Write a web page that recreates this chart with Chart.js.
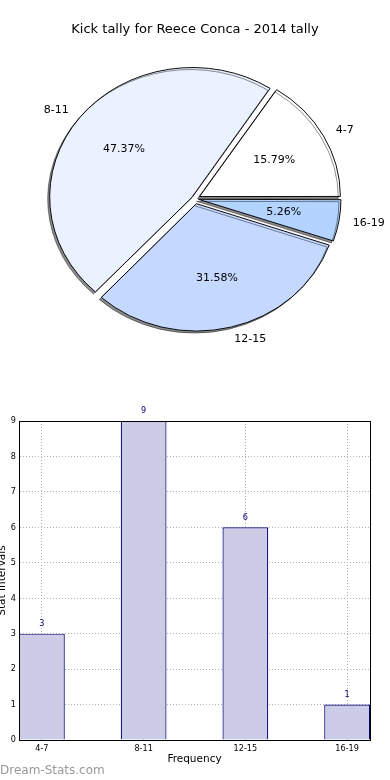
<!DOCTYPE html>
<html>
<head>
<meta charset="utf-8">
<script src="https://cdn.jsdelivr.net/npm/chart.js@4.4.0/dist/chart.umd.min.js"></script>
<style>
  html, body { margin: 0; padding: 0; background: #fff; }
  body { width: 390px; height: 780px; position: relative; overflow: hidden; font-family: 'DejaVu Sans', sans-serif; }
  #pieWrap { position: absolute; left: 0; top: 0; width: 390px; height: 358px; }
  #barWrap { position: absolute; left: -4px; top: 400px; width: 394px; height: 380px; }
  #credit { position: absolute; left: 0; top: 762px; font-size: 12px; line-height: 16px; color: #999; }
</style>
</head>
<body>
<div id="pieWrap"><canvas id="pieChart"></canvas></div>
<div id="barWrap"><canvas id="barChart"></canvas></div>
<div id="credit">Dream-Stats.com</div>
<script>
const categories = ['4-7', '8-11', '12-15', '16-19'];
const frequencies = [3, 9, 6, 1];
const sliceColors = ['#ffffff', '#eaf1ff', '#c5d8ff', '#b3d4ff'];
const yTicks = [0, 1, 2, 3, 4, 5, 6, 7, 8, 9];

const FONT = 'DejaVu Sans';
const SMALL = '"DejaVu Sans Condensed", "DejaVu Sans"';
const EXPLODE = 6;       // radial shift of every slice, px
const SQUASH = 0.907;    // the pie is a bit flatter than a circle

// matplotlib starts at 3 o'clock and goes counter-clockwise,
// Chart.js goes clockwise, so feed the slices backwards
const pieLabels = categories.slice().reverse();
const pieValues = frequencies.slice().reverse();
const pieColors = sliceColors.slice().reverse();

const ellipsePlugin = {
    id: 'ellipse',
    beforeDatasetsDraw(chart) {
        const ctx = chart.ctx;
        const arc = chart.getDatasetMeta(0).data[0];
        ctx.save();
        ctx.translate(arc.x, arc.y);
        ctx.scale(1, SQUASH);
        ctx.translate(-arc.x, -arc.y);
        ctx.shadowColor = 'rgba(0,0,0,0.45)';
        ctx.shadowOffsetX = -2;
        ctx.shadowOffsetY = 2;
    },
    afterDatasetsDraw(chart) {
        chart.ctx.restore();
    }
};

const pieLabelPlugin = {
    id: 'pieLabels',
    afterDraw(chart) {
        const ctx = chart.ctx;
        const meta = chart.getDatasetMeta(0);
        const data = chart.data.datasets[0].data;
        const total = data.reduce((a, b) => a + b, 0);
        ctx.save();
        ctx.font = '11px "' + FONT + '"';
        ctx.fillStyle = '#000';
        ctx.textBaseline = 'middle';
        meta.data.forEach((arc, i) => {
            const mid = (arc.startAngle + arc.endAngle) / 2;
            const c = Math.cos(mid), s = Math.sin(mid);
            const r = arc.outerRadius;
            const px = k => arc.x + c * (EXPLODE + k * r);
            const py = k => arc.y + s * (EXPLODE + k * r) * SQUASH;
            ctx.textAlign = 'center';
            ctx.fillText((data[i] / total * 100).toFixed(2) + '%', px(0.6), py(0.6));
            ctx.textAlign = c >= 0 ? 'left' : 'right';
            ctx.fillText(chart.data.labels[i], px(1.1), py(1.1));
        });
        ctx.restore();
    }
};

new Chart(document.getElementById('pieChart'), {
    type: 'pie',
    data: {
        labels: pieLabels,
        datasets: [{
            data: pieValues,
            backgroundColor: pieColors,
            borderColor: '#000',
            borderWidth: 1,
            clip: false,
            offset: (c) => {
                const vals = c.dataset.data;
                const tot = vals.reduce((a, b) => a + b, 0);
                const sweep = vals[c.dataIndex] / tot * 2 * Math.PI;
                const fix = 1 - Math.sin(Math.min(Math.PI, sweep));
                return 4 * EXPLODE / (1 + fix);
            }
        }]
    },
    options: {
        animation: false,
        responsive: true,
        maintainAspectRatio: false,
        rotation: 90,
        radius: 140,
        layout: { padding: 0 },
        plugins: {
            legend: { display: false },
            tooltip: { enabled: false },
            title: {
                display: true,
                text: 'Kick tally for Reece Conca - 2014 tally',
                color: '#000',
                font: { family: FONT, size: 13, weight: 'normal' },
                padding: { top: 22, bottom: 2 }
            }
        }
    },
    plugins: [ellipsePlugin, pieLabelPlugin]
});

const framePlugin = {
    id: 'frame',
    afterDraw(chart) {
        const { ctx, chartArea: a } = chart;
        const al = v => Math.round(v - 0.5) + 0.5;
        ctx.save();
        ctx.strokeStyle = '#000';
        ctx.lineWidth = 1;
        ctx.strokeRect(al(a.left), al(a.top), al(a.right) - al(a.left), al(a.bottom) - al(a.top));
        ctx.restore();
    }
};

const valueLabelPlugin = {
    id: 'valueLabels',
    afterDraw(chart) {
        const ctx = chart.ctx;
        const meta = chart.getDatasetMeta(0);
        ctx.save();
        ctx.font = '9px ' + SMALL;
        ctx.fillStyle = '#000080';
        ctx.textAlign = 'center';
        ctx.textBaseline = 'middle';
        meta.data.forEach((bar, i) => {
            ctx.fillText(String(frequencies[i]), bar.x, bar.y - 10);
        });
        ctx.restore();
    }
};

new Chart(document.getElementById('barChart'), {
    type: 'bar',
    data: {
        datasets: [{
            data: categories.map((c, i) => ({ x: i, y: frequencies[i] })),
            backgroundColor: '#ccccE6',
            borderColor: '#00007a',
            borderWidth: 1.2,
            barPercentage: 0.45,
            categoryPercentage: 1
        }]
    },
    options: {
        animation: false,
        responsive: true,
        maintainAspectRatio: false,
        layout: { padding: { top: 21, right: 20, left: 0, bottom: 0 } },
        plugins: {
            legend: { display: false },
            tooltip: { enabled: false }
        },
        scales: {
            x: {
                type: 'linear',
                offset: false,
                min: -0.225,
                max: 3.225,
                z: 1,
                afterBuildTicks: (s) => { s.ticks = categories.map((c, i) => ({ value: i })); },
                afterFit: (s) => { s.height = 40; },
                ticks: {
                    autoSkip: false,
                    maxRotation: 0,
                    padding: 3,
                    color: '#000',
                    font: { family: SMALL, size: 9 },
                    callback: (v) => categories[v]
                },
                grid: { color: '#b0b0b0', drawTicks: false, offset: false },
                border: { color: '#000', dash: [1, 2] },
                title: {
                    display: true,
                    text: 'Frequency',
                    color: '#000',
                    font: { family: FONT, size: 10.5 },
                    padding: { top: 0, bottom: 14 }
                }
            },
            y: {
                min: yTicks[0],
                max: yTicks[yTicks.length - 1],
                z: 1,
                afterFit: (s) => { s.width = 23; },
                afterBuildTicks: (s) => { s.ticks = yTicks.map(v => ({ value: v })); },
                ticks: {
                    padding: 3,
                    color: '#000',
                    font: { family: SMALL, size: 9 }
                },
                grid: { color: '#b0b0b0', drawTicks: false },
                border: { color: '#000', dash: [1, 2] },
                title: {
                    display: true,
                    text: 'Stat Intervals',
                    color: '#000',
                    font: { family: FONT, size: 10.5 },
                    padding: 0
                }
            }
        }
    },
    plugins: [framePlugin, valueLabelPlugin]
});
</script>
</body>
</html>
